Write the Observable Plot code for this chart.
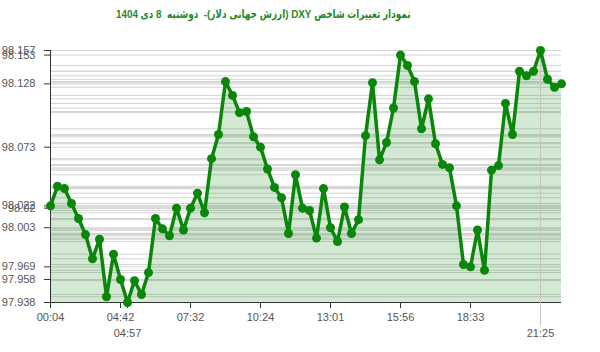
<!DOCTYPE html>
<html>
<head>
<meta charset="utf-8">
<script src="https://cdn.jsdelivr.net/npm/d3@7"></script>
<script src="https://cdn.jsdelivr.net/npm/@observablehq/plot@0.6"></script>
<style>
  body { margin: 0; background: #fff; }
  #title { width: 600px; box-sizing: border-box; padding-right: 74px; height: 28px; line-height: 28px;
           text-align: center; font-family: "Liberation Sans", "DejaVu Sans Condensed", "DejaVu Sans", sans-serif; font-weight: bold;
           font-size: 11.5px; color: #1f8a1f; direction: rtl; white-space: pre; }
  #title span { display: inline-block; transform: scaleX(0.855); transform-origin: center; }
</style>
</head>
<body>
<div id="title"><span>نمودار تغییرات شاخص DXY (ارزش جهانی دلار)-  دوشنبه  8 دی 1404</span></div>
<div id="chart"></div>
<script>
const values = [
  98.022, 98.039, 98.037, 98.024, 98.011, 97.997, 97.976, 97.993, 97.943, 97.980,
  97.958, 97.938, 97.957, 97.945, 97.964, 98.011, 98.002, 97.996, 98.020, 98.001,
  98.02, 98.033, 98.016, 98.063, 98.084, 98.130, 98.118, 98.103, 98.104, 98.082,
  98.073, 98.054, 98.038, 98.029, 97.998, 98.049, 98.020, 98.018, 97.994, 98.037,
  98.003, 97.991, 98.021, 97.998, 98.010, 98.083, 98.129, 98.062, 98.077, 98.107,
  98.153, 98.144, 98.130, 98.089, 98.115, 98.076, 98.058, 98.055, 98.022, 97.971,
  97.969, 98.001, 97.966, 98.053, 98.057, 98.111, 98.084, 98.139, 98.135, 98.139,
  98.157, 98.132, 98.125, 98.128
];
const tickIndex = [0, 10, 20, 30, 40, 50, 60];
const tickLabels = ["00:04", "04:42", "07:32", "10:24", "13:01", "15:56", "18:33"];
const minIndex = [11];
const minLabel = ["04:57"];
const maxIndex = [70];
const maxLabel = ["21:25"];
const yTickIndex = [0, 10, 11, 20, 30, 40, 50, 60, 70, 73];

const data = values.map((v, i) => ({i, v}));
const yMin = d3.min(values), yMax = d3.max(values);
const labelMap = new Map([
  ...tickIndex.map((d, k) => [d, tickLabels[k]]),
  ...minIndex.map((d, k) => [d, minLabel[k]]),
  ...maxIndex.map((d, k) => [d, maxLabel[k]])
]);
const yTicks = yTickIndex.map(i => values[i]);
const green = "#0a870a";

const chart = Plot.plot({
  width: 600,
  height: 324,
  marginLeft: 50,
  marginRight: 39,
  marginTop: 22,
  marginBottom: 50,
  x: {domain: [0, values.length - 1], axis: null},
  y: {domain: [yMin, yMax], axis: null},
  style: {fontFamily: "'Liberation Sans', Arial, sans-serif", fontSize: "11px", background: "#fff"},
  marks: [
    Plot.ruleY(values, {stroke: "#d4d4d4", strokeWidth: 1}),
    Plot.areaY(data, {x: "i", y1: () => yMin, y2: "v", fill: green, fillOpacity: 0.18}),
    Plot.ruleX(maxIndex, {stroke: "#c4c4c4", strokeWidth: 1}),
    Plot.ruleY([yMin], {stroke: "#333", strokeWidth: 1}),
    Plot.ruleX([0], {stroke: "#333", strokeWidth: 1}),
    Plot.axisY(yTicks, {label: null, tickSize: 6, tickPadding: 9, tickFormat: d => String(d), stroke: "#333", fill: "#555"}),
    Plot.axisX(tickIndex, {label: null, tickSize: 6, tickPadding: 5, tickFormat: i => labelMap.get(i), stroke: "#333", fill: "#555"}),
    Plot.axisX(minIndex, {label: null, tickSize: 6, tickPadding: 21, tickFormat: i => labelMap.get(i), stroke: "#333", fill: "#555"}),
    Plot.axisX(maxIndex, {label: null, tickSize: 24, tickPadding: 3, tickFormat: i => labelMap.get(i), stroke: "#c4c4c4", fill: "#555"}),
    Plot.line(data, {x: "i", y: "v", stroke: green, strokeWidth: 3.5, strokeLinejoin: "round"}),
    Plot.dot(data, {x: "i", y: "v", r: 4.5, fill: green, stroke: "none"})
  ]
});
document.getElementById("chart").appendChild(chart);
</script>
</body>
</html>
